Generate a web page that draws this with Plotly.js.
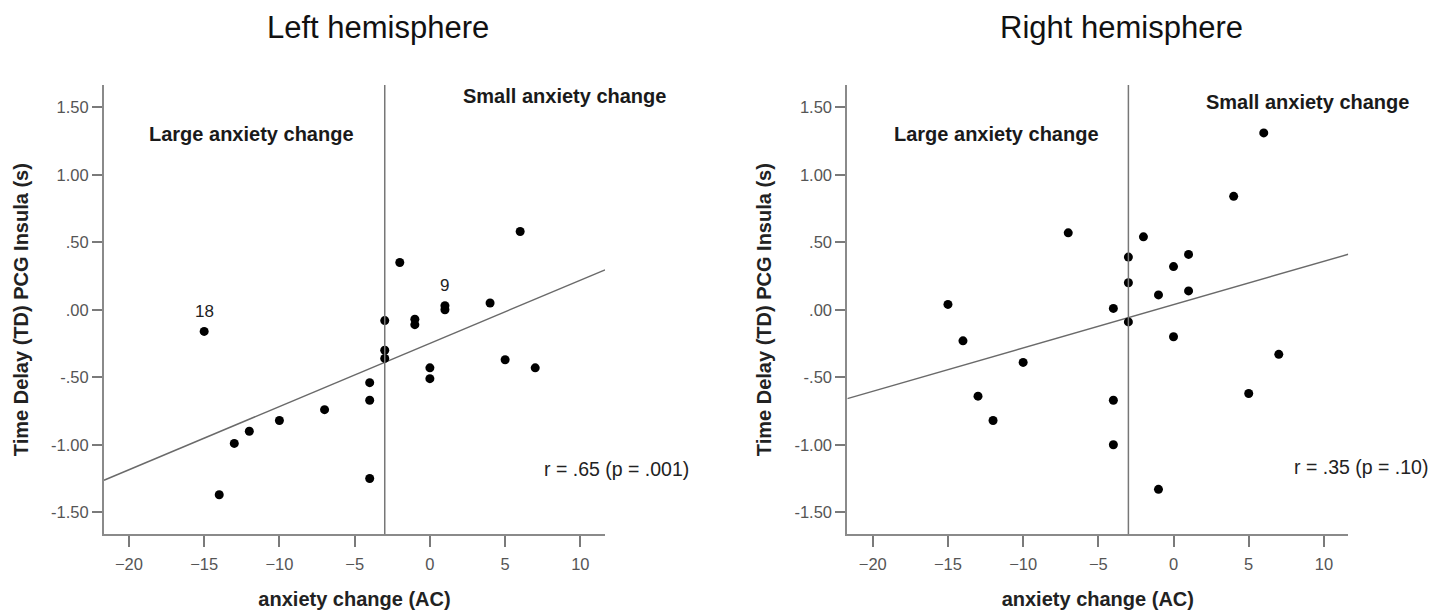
<!DOCTYPE html>
<html>
<head>
<meta charset="utf-8">
<script src="https://cdn.plot.ly/plotly-3.0.1.min.js"></script>
<style>html,body{margin:0;padding:0;background:#fff;}#chart{width:1444px;height:614px;}</style>
</head>
<body>
<div id="chart"></div>
<script>
// anxiety change (AC) and time delay (TD) values, left hemisphere
const acLeft = [-15, -3, -2, -1, -1, 1, 1, 4, 6, -3, -3, 5, 7, 0, 0, -4, -4, -4, -7, -10, -12, -13, -14];
const tdLeft = [-0.16, -0.08, 0.35, -0.07, -0.11, 0.03, 0.00, 0.05, 0.58, -0.30, -0.36, -0.37, -0.43, -0.43, -0.51, -0.54, -0.67, -1.25, -0.74, -0.82, -0.90, -0.99, -1.37];
// right hemisphere
const acRight = [6, 4, -7, -2, -3, 1, 0, -3, -1, 1, -15, -4, -3, -14, 0, 7, -10, -13, -4, 5, -12, -4, -1];
const tdRight = [1.31, 0.84, 0.57, 0.54, 0.39, 0.41, 0.32, 0.20, 0.11, 0.14, 0.04, 0.01, -0.09, -0.23, -0.20, -0.33, -0.39, -0.64, -0.67, -0.62, -0.82, -1.00, -1.33];

const cutoff = -3; // AC split between large and small anxiety change
const xTickVals = [-20, -15, -10, -5, 0, 5, 10];
const yTickVals = [-1.5, -1, -0.5, 0, 0.5, 1, 1.5];
const yTickText = ["-1.50", "-1.00", "-.50", ".00", ".50", "1.00", "1.50"];
const panelTitles = ["Left hemisphere", "Right hemisphere"];
const groupLabels = ["Large anxiety change", "Small anxiety change"];
const corrLabels = ["r = .65 (p = .001)", "r = .35 (p = .10)"];
const caseLabels = [{text: "18", ac: -15, td: -0.16}, {text: "9", ac: 1, td: 0.03}];

const xRangeL = [-21.66, 11.64];
const xRangeR = [-21.69, 11.62];
const yRange = [-1.663, 1.665];

function fit(xs, ys) {
  const n = xs.length;
  const mx = xs.reduce((a, b) => a + b, 0) / n;
  const my = ys.reduce((a, b) => a + b, 0) / n;
  let sxy = 0, sxx = 0;
  for (let i = 0; i < n; i++) { sxy += (xs[i] - mx) * (ys[i] - my); sxx += (xs[i] - mx) ** 2; }
  const b = sxy / sxx;
  return {b: b, a: my - b * mx};
}
const fL = fit(acLeft, tdLeft), fR = fit(acRight, tdRight);

const FONT = "Arial, 'Liberation Sans', sans-serif";
const marker = {color: "#000", size: 9};
const traces = [
  {x: xRangeL, y: xRangeL.map(v => fL.a + fL.b * v), mode: "lines", line: {color: "#6a6a6a", width: 1.4}, xaxis: "x", yaxis: "y", hoverinfo: "skip"},
  {x: acLeft, y: tdLeft, mode: "markers", marker: marker, xaxis: "x", yaxis: "y"},
  {x: xRangeR, y: xRangeR.map(v => fR.a + fR.b * v), mode: "lines", line: {color: "#6a6a6a", width: 1.4}, xaxis: "x2", yaxis: "y2", hoverinfo: "skip"},
  {x: acRight, y: tdRight, mode: "markers", marker: marker, xaxis: "x2", yaxis: "y2"}
];

function xAxis(domain, range) {
  return {
    domain: domain, range: range, tickvals: xTickVals, ticks: "outside", ticklen: 11, tickwidth: 2, tickcolor: "#7a7a7a",
    showline: true, linecolor: "#8a8a8a", linewidth: 2, showgrid: false, zeroline: false,
    tickfont: {family: FONT, size: 16.5, color: "#555"}, ticklabelstandoff: 3,
    title: {text: "anxiety change (AC)", font: {family: FONT, size: 20, color: "#222", weight: "bold"}, standoff: 20}
  };
}
function yAxis(anchor) {
  return {
    domain: [0.1298, 0.8616], range: yRange, anchor: anchor, tickvals: yTickVals, ticktext: yTickText,
    ticks: "outside", ticklen: 10, tickwidth: 2, tickcolor: "#7a7a7a",
    showline: true, linecolor: "#8a8a8a", linewidth: 2, showgrid: false, zeroline: false,
    tickfont: {family: FONT, size: 16.5, color: "#555"}, ticklabelstandoff: 0,
    title: {text: "Time Delay (TD) PCG Insula (s)", font: {family: FONT, size: 20, color: "#222", weight: "bold"}, standoff: 17}
  };
}

const boldFont = {family: FONT, size: 20, color: "#1a1a1a", weight: "bold"};
const annotations = [
  {text: panelTitles[0], xref: "paper", yref: "paper", x: 0.2618, y: 0.955, xanchor: "center", yanchor: "middle", showarrow: false, font: {family: FONT, size: 31, color: "#111"}},
  {text: panelTitles[1], xref: "paper", yref: "paper", x: 0.7767, y: 0.955, xanchor: "center", yanchor: "middle", showarrow: false, font: {family: FONT, size: 31, color: "#111"}},
  {text: groupLabels[0], xref: "paper", yref: "paper", x: 0.1018, y: 0.7822, xanchor: "left", yanchor: "middle", showarrow: false, font: boldFont},
  {text: groupLabels[1], xref: "paper", yref: "paper", x: 0.3190, y: 0.8432, xanchor: "left", yanchor: "middle", showarrow: false, font: boldFont},
  {text: groupLabels[0], xref: "paper", yref: "paper", x: 0.6175, y: 0.7822, xanchor: "left", yanchor: "middle", showarrow: false, font: boldFont},
  {text: groupLabels[1], xref: "paper", yref: "paper", x: 0.8337, y: 0.8339, xanchor: "left", yanchor: "middle", showarrow: false, font: boldFont},
  {text: corrLabels[0], xref: "paper", yref: "paper", x: 0.4783, y: 0.2366, xanchor: "right", yanchor: "middle", showarrow: false, font: {family: FONT, size: 19.5, color: "#222"}},
  {text: corrLabels[1], xref: "paper", yref: "paper", x: 0.9901, y: 0.2399, xanchor: "right", yanchor: "middle", showarrow: false, font: {family: FONT, size: 19.5, color: "#222"}}
];
caseLabels.forEach(c => annotations.push({
  text: c.text, xref: "x", yref: "y", x: c.ac, y: c.td, yshift: 20, xanchor: "center", showarrow: false,
  font: {family: FONT, size: 17, color: "#222"}
}));

const shapes = [
  {type: "line", xref: "x", yref: "y domain", x0: cutoff, x1: cutoff, y0: 0, y1: 1, line: {color: "#777", width: 1.5}},
  {type: "line", xref: "x2", yref: "y2 domain", x0: cutoff, x1: cutoff, y0: 0, y1: 1, line: {color: "#777", width: 1.5}}
];

const layout = {
  width: 1444, height: 614, margin: {l: 0, r: 0, t: 0, b: 0},
  paper_bgcolor: "#fff", plot_bgcolor: "#fff", showlegend: false,
  font: {family: FONT},
  xaxis: Object.assign(xAxis([0.0720, 0.4190], xRangeL), {anchor: "y"}),
  yaxis: yAxis("x"),
  xaxis2: Object.assign(xAxis([0.5868, 0.9337], xRangeR), {anchor: "y2"}),
  yaxis2: yAxis("x2"),
  annotations: annotations, shapes: shapes
};

Plotly.newPlot("chart", traces, layout, {displayModeBar: false, staticPlot: true});
</script>
</body>
</html>
